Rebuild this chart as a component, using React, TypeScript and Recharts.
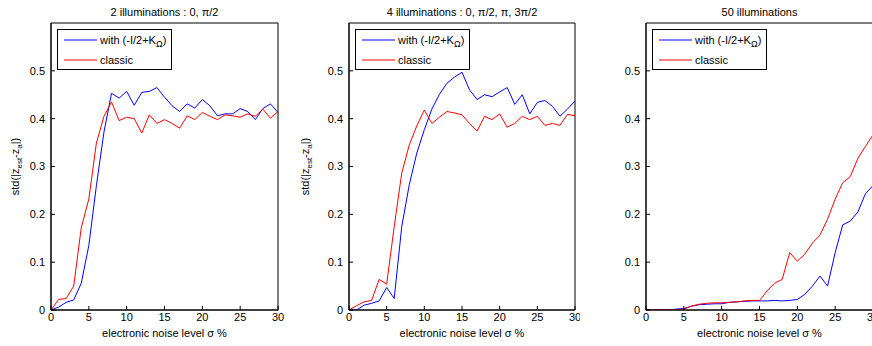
import React from 'react';
import { LineChart, Line, XAxis, YAxis, Legend, ReferenceArea } from 'recharts';

const noiseLevels = [0,1,2,3,4,5,6,7,8,9,10,11,12,13,14,15,16,17,18,19,20,21,22,23,24,25,26,27,28,29,30];
const xTicks = [0, 5, 10, 15, 20, 25, 30];
const yTicks = [0, 0.1, 0.2, 0.3, 0.4, 0.5];

const seriesNames = ['with (-I/2+K', 'classic'];
const titles = ['2 illuminations : 0, \u03c0/2', '4 illuminations : 0, \u03c0/2, \u03c0, 3\u03c0/2', '50 illuminations'];
const xLabel = 'electronic noise level \u03c3 %';

const blue2 = [0,0.006,0.016,0.021,0.056,0.135,0.26,0.372,0.453,0.443,0.457,0.428,0.455,0.457,0.465,0.445,0.427,0.415,0.431,0.422,0.44,0.427,0.406,0.41,0.41,0.421,0.415,0.398,0.421,0.431,0.413];
const red2 = [0,0.022,0.024,0.05,0.172,0.232,0.349,0.405,0.435,0.396,0.403,0.4,0.37,0.408,0.39,0.398,0.39,0.38,0.406,0.398,0.413,0.405,0.398,0.408,0.406,0.403,0.41,0.405,0.42,0.401,0.415];

const blue4 = [0,0,0.01,0.014,0.019,0.047,0.024,0.174,0.262,0.328,0.377,0.42,0.451,0.474,0.487,0.497,0.46,0.44,0.45,0.446,0.456,0.465,0.43,0.45,0.41,0.434,0.438,0.426,0.405,0.42,0.437];
const red4 = [0,0.009,0.017,0.02,0.064,0.054,0.174,0.286,0.345,0.385,0.418,0.39,0.403,0.415,0.412,0.408,0.39,0.374,0.405,0.398,0.41,0.382,0.39,0.405,0.398,0.405,0.386,0.39,0.386,0.409,0.406];

const blue50 = [0,0,0,0,0.002,0.003,0.008,0.011,0.012,0.013,0.013,0.016,0.017,0.018,0.019,0.019,0.019,0.02,0.019,0.02,0.022,0.033,0.05,0.071,0.05,0.12,0.178,0.186,0.205,0.243,0.26];
const red50 = [0,0,0,0,0,0.002,0.008,0.012,0.014,0.015,0.015,0.016,0.017,0.019,0.02,0.02,0.04,0.056,0.064,0.12,0.102,0.117,0.14,0.157,0.19,0.232,0.266,0.279,0.317,0.342,0.366];

const BLUE = '#0000ff';
const RED = '#ff0000';
const FONT = '"Liberation Sans", Arial, Helvetica, sans-serif';

const build = (b: number[], r: number[]) => noiseLevels.map((x, i) => ({ x, blue: b[i], red: r[i] }));

const LegendBox = (props: any) => {
  const payload: any[] = props.payload || [];
  const ordered = ['blue', 'red']
    .map((k) => payload.find((p: any) => p.dataKey === k))
    .filter(Boolean);
  return (
    <svg width={115} height={41} style={{ display: 'block' }}>
      <rect x={0.5} y={0.5} width={114} height={40} fill="#fff" stroke="#000" strokeWidth={1} />
      {ordered.map((p: any, i: number) => (
        <g key={i}>
          <line x1={7} x2={40} y1={11 + i * 20} y2={11 + i * 20} stroke={p.color} strokeWidth={1} />
          <text x={43} y={15 + i * 20} fontSize={11} fill="#000" fontFamily={FONT}>
            {p.dataKey === 'blue' ? (
              <>
                {p.value}
                <tspan dy={3} fontSize={9}>{'\u03a9'}</tspan>
                <tspan dy={-3}>)</tspan>
              </>
            ) : (
              p.value
            )}
          </text>
        </g>
      ))}
    </svg>
  );
};

type PanelProps = {
  data: { x: number; blue: number; red: number }[];
  title: string;
  left: number;
  width: number;
  marginLeft: number;
  marginRight: number;
  showYLabel: boolean;
};

const Panel = ({ data, title, left, width, marginLeft, marginRight, showYLabel }: PanelProps) => {
  const tickStyle = { fontSize: 11, fill: '#000', fontFamily: FONT };
  const plotLeft = marginLeft + 40;
  const plotWidth = width - plotLeft - marginRight;
  return (
    <div style={{ position: 'absolute', left, top: 0, width, height: 346 }}>
      <div
        style={{
          position: 'absolute',
          left: plotLeft,
          top: 4,
          width: plotWidth,
          textAlign: 'center',
          fontSize: 11,
          lineHeight: '16px',
          color: '#000',
          fontFamily: FONT,
          whiteSpace: 'nowrap',
        }}
      >
        {title}
      </div>
      <LineChart width={width} height={346} data={data} margin={{ top: 23, right: marginRight, bottom: 6, left: marginLeft }}>
        <XAxis
          xAxisId="b"
          dataKey="x"
          type="number"
          domain={[0, 30]}
          ticks={xTicks}
          height={30}
          tickSize={-4}
          tickMargin={7}
          stroke="#000"
          tick={tickStyle}
          interval={0}
          label={{
            content: (p: any) => {
              const vb = p.viewBox || {};
              return (
                <text x={vb.x + vb.width / 2} y={337} textAnchor="middle" fontSize={11} fill="#000" fontFamily={FONT}>
                  {xLabel}
                </text>
              );
            },
          }}
        />
        <XAxis
          xAxisId="t"
          dataKey="x"
          type="number"
          orientation="top"
          domain={[0, 30]}
          ticks={xTicks}
          height={0}
          tickSize={-4}
          stroke="#000"
          tick={false}
          interval={0}
        />
        <YAxis
          yAxisId="l"
          type="number"
          domain={[0, 0.6]}
          ticks={yTicks}
          width={40}
          tickSize={-4}
          tickMargin={10}
          stroke="#000"
          tick={tickStyle}
          interval={0}
          allowDataOverflow
          tickFormatter={(v: number) => (v === 0 ? '0' : String(v))}
          label={
            showYLabel
              ? {
                  content: (p: any) => {
                    const vb = p.viewBox || {};
                    const cx = 19;
                    const cy = vb.y + vb.height / 2;
                    return (
                      <text
                        x={cx}
                        y={cy}
                        textAnchor="middle"
                        transform={`rotate(-90 ${cx} ${cy})`}
                        fontSize={11}
                        fill="#000"
                        fontFamily={FONT}
                      >
                        std(|z
                        <tspan dy={3} fontSize={8}>est</tspan>
                        <tspan dy={-3}>-z</tspan>
                        <tspan dy={3} fontSize={8}>a</tspan>
                        <tspan dy={-3}>|)</tspan>
                      </text>
                    );
                  },
                }
              : undefined
          }
        />
        <YAxis
          yAxisId="r"
          type="number"
          orientation="right"
          domain={[0, 0.6]}
          ticks={yTicks}
          width={0}
          tickSize={-4}
          stroke="#000"
          tick={false}
          interval={0}
          allowDataOverflow
        />
        <ReferenceArea
          xAxisId="b"
          yAxisId="l"
          x1={0}
          x2={30}
          y1={0}
          y2={0.6}
          fill="none"
          fillOpacity={0}
          stroke="#000"
          strokeWidth={1}
          strokeOpacity={1}
          ifOverflow="visible"
        />
        <Legend
          layout="vertical"
          align="center"
          verticalAlign="middle"
          wrapperStyle={{ left: plotLeft + 6, top: 29, width: 115, height: 41 }}
          content={<LegendBox />}
        />
        <Line xAxisId="b" yAxisId="l" dataKey="blue" name={seriesNames[0]} stroke={BLUE} strokeWidth={1} dot={false} isAnimationActive={false} />
        <Line xAxisId="b" yAxisId="l" dataKey="red" name={seriesNames[1]} stroke={RED} strokeWidth={1} dot={false} isAnimationActive={false} />
      </LineChart>
    </div>
  );
}

export default function App() {
  return (
    <div
      style={{
        position: 'absolute',
        left: 0,
        top: 0,
        width: 872,
        height: 346,
        overflow: 'hidden',
        background: '#fff',
        fontFamily: FONT,
      }}
    >
      <Panel data={build(blue2, red2)} title={titles[0]} left={0} width={290} marginLeft={11} marginRight={12} showYLabel />
      <Panel data={build(blue4, red4)} title={titles[1]} left={290} width={290} marginLeft={19} marginRight={5} showYLabel />
      <Panel data={build(blue50, red50)} title={titles[2]} left={580} width={300} marginLeft={26} marginRight={7} showYLabel={false} />
    </div>
  );
}
